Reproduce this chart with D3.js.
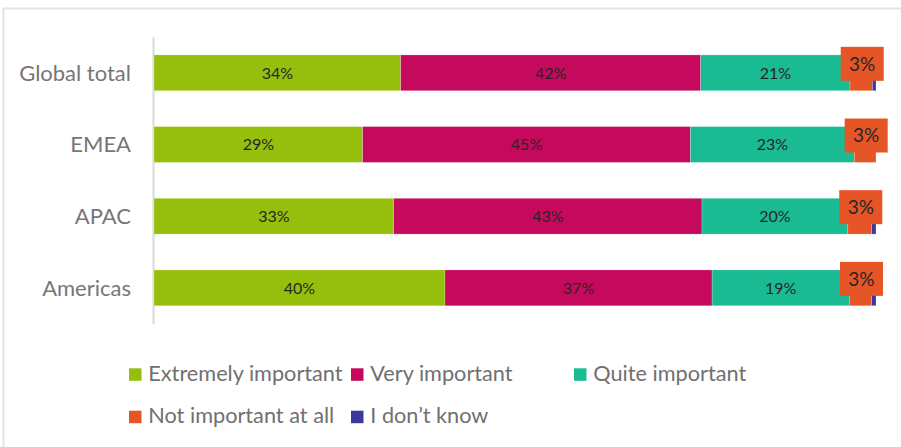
<!DOCTYPE html>
<html>
<head>
<meta charset="utf-8">
<script src="https://cdn.jsdelivr.net/npm/d3@7"></script>
<style>
  html, body { margin: 0; padding: 0; background: #fff; }
  svg { display: block; }
  text { font-family: Lato, "Open Sans", sans-serif; }
</style>
</head>
<body>
<svg id="chart" width="901" height="447"></svg>
<script>
// Regions (top to bottom) and response categories
const categories = ["Global total", "EMEA", "APAC", "Americas"];
const seriesNames = ["Extremely important", "Very important", "Quite important", "Not important at all", "I don\u2019t know"];

// Share of respondents per region, in percent
const extremelyImportant = [34.2, 28.9, 33.2, 40.3];
const veryImportant      = [41.6, 45.4, 42.7, 37.0];
const quiteImportant     = [20.7, 22.7, 20.2, 19.0];
const notImportantAtAll  = [3.1, 3.0, 3.3, 3.1];
const dontKnow           = [0.5, 0.0, 0.6, 0.6];

const colors = ["#96bf0d", "#c5095c", "#1abb93", "#e65526", "#3b3a9c"];

const allSeries = [extremelyImportant, veryImportant, quiteImportant, notImportantAtAll, dontKnow];
const rows = categories.map((c, i) => {
  const r = { region: c };
  seriesNames.forEach((s, k) => { r[s] = allSeries[k][i]; });
  return r;
});

const svg = d3.select("#chart");

// Outer frame of the chart area
svg.append("rect")
  .attr("x", 3.5).attr("y", 8.5)
  .attr("width", 910).attr("height", 460)
  .attr("fill", "none")
  .attr("stroke", "#e3e3e3")
  .attr("stroke-width", 2);

// 100% stacked layout
const stacked = d3.stack()
  .keys(seriesNames)
  .offset(d3.stackOffsetExpand)(rows);

const x = d3.scaleLinear().domain([0, 1]).range([154, 876]);
const y = d3.scaleBand()
  .domain(categories)
  .range([37, 323.7])
  .paddingInner(0.5)
  .paddingOuter(0.25);

// Category axis
const yAxis = d3.axisLeft(y).tickSize(0).tickPadding(22);
const gy = svg.append("g").attr("transform", "translate(153,0)").call(yAxis);
gy.select(".domain").attr("stroke", "#d9d9d9").attr("stroke-width", 2);
gy.selectAll(".tick text")
  .attr("fill", "#767676")
  .attr("font-size", "22px")
  .attr("font-family", "Lato, 'Open Sans', sans-serif")
  .attr("dy", "0.36em");

// Bars
const layers = svg.append("g").selectAll("g")
  .data(stacked)
  .join("g")
  .attr("fill", (d, i) => colors[i]);

layers.selectAll("rect")
  .data(d => d)
  .join("rect")
  .attr("x", d => x(d[0]))
  .attr("y", d => y(d.data.region))
  .attr("width", d => Math.max(0, x(d[1]) - x(d[0])))
  .attr("height", y.bandwidth())
  .attr("stroke", "#ffffff")
  .attr("stroke-width", 0.5)
  .attr("stroke-opacity", 0.45);

const pct = v => Math.round(v) + "%";

// Labels centred inside the three large segments
stacked.slice(0, 3).forEach((layer, k) => {
  svg.append("g").selectAll("text")
    .data(layer)
    .join("text")
    .attr("x", d => (x(d[0]) + x(d[1])) / 2)
    .attr("y", d => y(d.data.region) + y.bandwidth() / 2)
    .attr("dy", "0.36em")
    .attr("text-anchor", "middle")
    .attr("font-size", "16px")
    .attr("fill", "#262626")
    .text(d => pct(d.data[seriesNames[k]]));
});

// Callout labels for the small "Not important at all" segment
const small = stacked[3];
const boxW = 43, boxH = 34;
const callouts = svg.append("g").selectAll("g")
  .data(small)
  .join("g")
  .attr("transform", d => {
    const cx = (x(d[0]) + x(d[1])) / 2 + 1;
    const cy = y(d.data.region) + y.bandwidth() / 2 - 9;
    return `translate(${cx},${cy})`;
  });
callouts.append("rect")
  .attr("x", -boxW / 2).attr("y", -boxH / 2)
  .attr("width", boxW).attr("height", boxH)
  .attr("fill", colors[3]);
callouts.append("text")
  .attr("text-anchor", "middle")
  .attr("dy", "0.36em")
  .attr("font-size", "19px")
  .attr("fill", "#262626")
  .text(d => pct(d.data[seriesNames[3]]));

// Legend
const legendCols = [129, 351, 574];
const legendRows = [368.3, 410.7];
const sq = 12.5;
const legend = svg.append("g").selectAll("g")
  .data(seriesNames)
  .join("g")
  .attr("transform", (d, i) => `translate(${legendCols[i % 3]},${legendRows[Math.floor(i / 3)]})`);
legend.append("rect")
  .attr("width", sq).attr("height", sq)
  .attr("fill", (d, i) => colors[i]);
legend.append("text")
  .attr("x", 19.3)
  .attr("y", sq)
  .attr("font-size", "21.7px")
  .attr("fill", "#707070")
  .text(d => d);
</script>
</body>
</html>
